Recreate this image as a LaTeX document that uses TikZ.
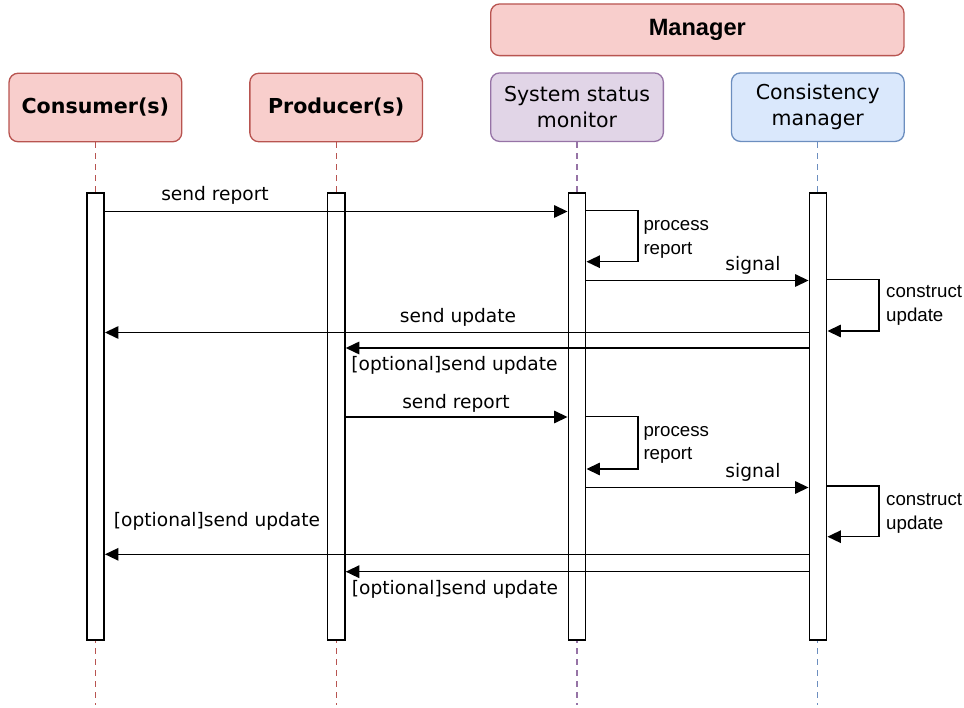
\documentclass[tikz,border=0pt]{standalone}
\usepackage{fontspec}
\setmainfont{DejaVu Sans}
\newfontfamily\arialf{Liberation Sans}
\usetikzlibrary{arrows.meta}
\definecolor{redfill}{HTML}{F8CECC}
\definecolor{redline}{HTML}{B85450}
\definecolor{purfill}{HTML}{E1D5E7}
\definecolor{purline}{HTML}{9673A6}
\definecolor{bluefill}{HTML}{DAE8FC}
\definecolor{blueline}{HTML}{6C8EBF}
\begin{document}
\begin{tikzpicture}[x=1pt,y=-1pt,
 hdr/.style={draw, line width=1.3pt, rounded corners=9pt, minimum width=172.7pt, minimum height=68.5pt, inner sep=0pt, align=center, font=\fontsize{20.5}{26}\selectfont},
 life/.style={line width=1.3pt, dash pattern=on 6pt off 5pt},
 bar/.style={draw, fill=white, line width=1.5pt, minimum width=17.4pt, minimum height=447pt, inner sep=0pt},
 msg/.style={line width=1.5pt, line join=miter, -{Triangle[length=13.5pt,width=12.5pt]}},
 lbl/.style={anchor=base, inner sep=0pt, font=\fontsize{18.6}{22}\selectfont},
 note/.style={anchor=base west, inner sep=0pt, align=left, font=\arialf\fontsize{18.7}{23.8}\selectfont},
]
\useasboundingbox (0,0) rectangle (964,708);
% header boxes
\node[hdr, fill=redfill, draw=redline, minimum width=413.3pt, minimum height=51.7pt, font=\arialf\bfseries\fontsize{23.6}{26}\selectfont] (mgr) at (697.3,29.8) {Manager};
\node[hdr, fill=redfill, draw=redline, font=\bfseries\fontsize{20.6}{26}\selectfont] (cons) at (95.4,107.5) {Consumer(s)};
\node[hdr, fill=redfill, draw=redline, font=\bfseries\fontsize{20.6}{26}\selectfont] (prod) at (336.2,107.5) {Producer(s)};
\node[hdr, fill=purfill, draw=purline] (ssm) at (577,107.2) {System status\\monitor};
\node[hdr, fill=bluefill, draw=blueline] (cm) at (817.8,107.2) {Consistency\\manager};
% lifelines
\coordinate (consEnd) at (cons.south |- 0,705);
\coordinate (prodEnd) at (prod.south |- 0,705);
\coordinate (ssmEnd) at (ssm.south |- 0,705);
\coordinate (cmEnd) at (cm.south |- 0,705);
\draw[life, redline] (cons) -- (consEnd);
\draw[life, redline] (prod) -- (prodEnd);
\draw[life, purline] (ssm) -- (ssmEnd);
\draw[life, blueline] (cm) -- (cmEnd);
% activation bars
\node[bar] (barC) at (95.5,416.5) {};
\node[bar] (barP) at (336.3,416.5) {};
\node[bar] (barS) at (577,416.5) {};
\node[bar] (barM) at (818,416.5) {};
% messages, first round
\draw[msg] (barC.east |- 0,211.5) -- (barS.west |- 0,211.5);
\draw[msg] (barS.east |- 0,210.7) -- ++(51.6,0) |- (barS.east |- 0,261.7);
\draw[msg] (barS.east |- 0,280.5) -- (barM.west |- 0,280.5);
\draw[msg] (barM.east |- 0,279.3) -- ++(51.6,0) |- (barM.east |- 0,331);
\draw[msg] (barM.west |- 0,332.5) -- (barC.east |- 0,332.5);
\draw[msg] (barM.west |- 0,348) -- (barP.east |- 0,348);
% second round
\draw[msg] (barP.east |- 0,417) -- (barS.west |- 0,417);
\draw[msg] (barS.east |- 0,416.7) -- ++(51.6,0) |- (barS.east |- 0,469);
\draw[msg] (barS.east |- 0,487.5) -- (barM.west |- 0,487.5);
\draw[msg] (barM.east |- 0,486) -- ++(51.6,0) |- (barM.east |- 0,536.7);
\draw[msg] (barM.west |- 0,554.3) -- (barC.east |- 0,554.3);
\draw[msg] (barM.west |- 0,571.7) -- (barP.east |- 0,571.7);
% labels
\node[lbl] (l1) at (215,200.5) {send report};
\node[note] (l2) at (643.3,254.3) {process\\report};
\node[lbl] (l3) at (753,270.7) {signal};
\node[note] (l4) at (886,321.8) {construct\\update};
\node[lbl] (l5) at (458,322.7) {send update};
\node[lbl] (l6) at (454.5,371) {[optional]send update};
\node[lbl] (l7) at (456,408.3) {send report};
\node[note] (l8) at (643.3,460) {process\\report};
\node[lbl] (l9) at (753,477.7) {signal};
\node[note] (l10) at (886,529) {construct\\update};
\node[lbl] (l11) at (217,526) {[optional]send update};
\node[lbl] (l12) at (455,594.3) {[optional]send update};
\end{tikzpicture}
\end{document}
